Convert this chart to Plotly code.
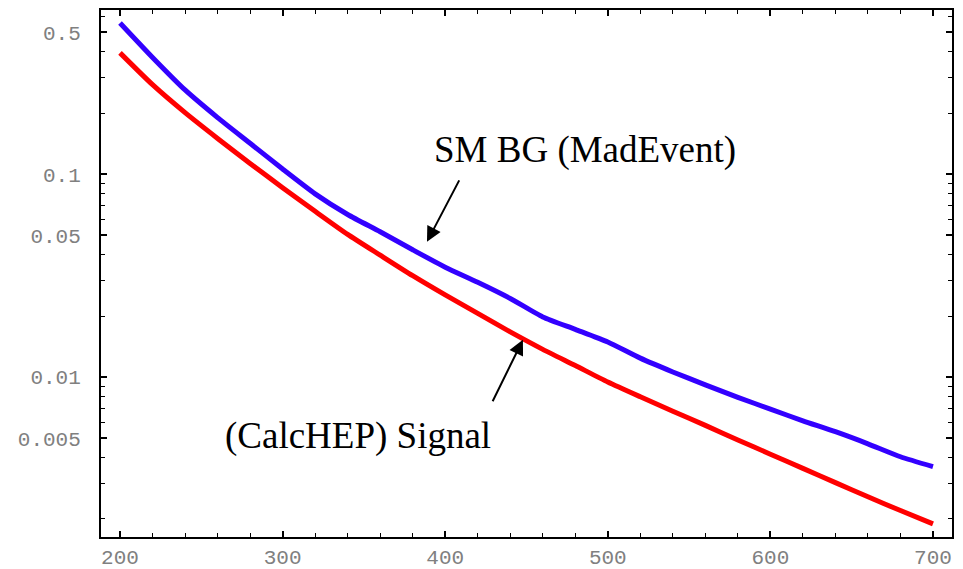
import plotly.graph_objects as go

# Invariant mass grid (GeV) and distributions
mass = [200, 220, 240, 260, 280, 300, 320, 340, 360, 380, 400, 420, 440,
        460, 480, 500, 520, 540, 560, 580, 600, 620, 640, 660, 680, 700]

sm_bg = [0.556, 0.376, 0.260, 0.190, 0.142, 0.106, 0.0800, 0.0633, 0.0520,
         0.0424, 0.0348, 0.0293, 0.0244, 0.0198, 0.0172, 0.0149, 0.0124,
         0.0106, 0.00916, 0.00795, 0.00695, 0.00609, 0.00538, 0.00469,
         0.00405, 0.00362]

signal = [0.396, 0.276, 0.201, 0.150, 0.113, 0.0857, 0.0656, 0.0505, 0.0399,
          0.0316, 0.0254, 0.0206, 0.0167, 0.0137, 0.0114, 0.00946, 0.00800,
          0.00679, 0.00578, 0.00490, 0.00417, 0.00355, 0.00302, 0.00257,
          0.00220, 0.00189]

x_ticks = [200, 300, 400, 500, 600, 700]
y_ticks = [0.005, 0.01, 0.05, 0.1, 0.5]
y_ticktext = ["0.005", "0.01", "0.05", "0.1", "0.5"]
y_minor = [0.002, 0.003, 0.004, 0.006, 0.007, 0.008, 0.009,
           0.02, 0.03, 0.04, 0.06, 0.07, 0.08, 0.09,
           0.2, 0.3, 0.4, 0.6]

X_RANGE = [188.3, 711.7]
Y_RANGE = [-2.788, -0.191]

tick_font = dict(family="Liberation Mono, Courier New, monospace", size=21, color="#808080")
label_font = dict(family="Liberation Serif, Times New Roman, serif", size=37, color="black")

fig = go.Figure()
fig.add_trace(go.Scatter(x=mass, y=sm_bg, mode="lines", name="SM BG (MadEvent)",
                         line=dict(color="#3300ff", width=5, shape="spline", smoothing=0.6)))
fig.add_trace(go.Scatter(x=mass, y=signal, mode="lines", name="(CalcHEP) Signal",
                         line=dict(color="#ff0000", width=5, shape="spline", smoothing=0.6)))
# carrier for the mirrored top/right tick axes
fig.add_trace(go.Scatter(x=mass, y=signal, xaxis="x2", yaxis="y2", mode="lines",
                         opacity=0, hoverinfo="skip", showlegend=False))

common = dict(ticks="inside", ticklen=6, tickwidth=1.5, tickcolor="black",
              showline=True, linewidth=2, linecolor="black",
              showgrid=False, zeroline=False, automargin=False)
x_minor = dict(dtick=20, tick0=200, ticks="inside", ticklen=4, tickwidth=1.2, tickcolor="black")
y_minor_cfg = dict(tickmode="array", tickvals=y_minor, ticks="inside", ticklen=4,
                   tickwidth=1.2, tickcolor="black")

fig.update_layout(
    template="none",
    width=963, height=569,
    margin=dict(l=101, r=11, t=10, b=32, pad=0),
    paper_bgcolor="white", plot_bgcolor="white",
    showlegend=False,
    xaxis=dict(range=X_RANGE, tickmode="array", tickvals=x_ticks, minor=x_minor,
               tickfont=tick_font, ticklabelstandoff=0, **common),
    yaxis=dict(type="log", range=Y_RANGE, tickmode="array", tickvals=y_ticks,
               ticktext=y_ticktext, minor=y_minor_cfg, tickfont=tick_font,
               ticklabelstandoff=14, **common),
    xaxis2=dict(range=X_RANGE, overlaying="x", side="top", tickmode="array",
                tickvals=x_ticks, minor=x_minor, showticklabels=False, **common),
    yaxis2=dict(type="log", range=Y_RANGE, overlaying="y", side="right", tickmode="array",
                tickvals=y_ticks, minor=y_minor_cfg, showticklabels=False, **common),
)

# Curve labels with pointer arrows
fig.add_annotation(x=391.9, y=-0.880, xref="x", yref="y", text="SM BG (MadEvent)",
                   showarrow=False, xanchor="left", yanchor="middle", font=label_font)
fig.add_annotation(x=263.3, y=-2.289, xref="x", yref="y", text="(CalcHEP) Signal",
                   showarrow=False, xanchor="left", yanchor="middle", font=label_font)
fig.add_annotation(x=388.8, y=-1.3335, xref="x", yref="y", text="", showarrow=True,
                   ax=33, ay=-63, arrowhead=2, arrowsize=1.5, arrowwidth=2, arrowcolor="black")
fig.add_annotation(x=447.8, y=-1.816, xref="x", yref="y", text="", showarrow=True,
                   ax=-31, ay=63, arrowhead=2, arrowsize=1.5, arrowwidth=2, arrowcolor="black")

fig.write_html("out.html")
